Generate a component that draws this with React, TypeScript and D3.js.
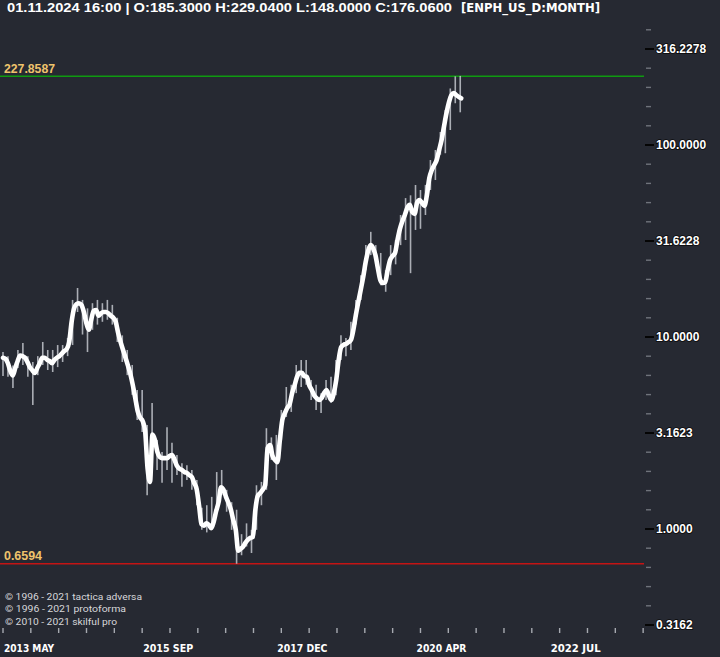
import React, { useEffect } from 'react';
import * as d3 from 'd3';

const W = 720;
const H = 657;

// thick close trace, sampled about every half month starting 2013 MAY
const LINE_STEP_MONTHS = 0.493;
const closeTrace = [
  7.8, 7.7, 7.3, 6.65, 6.3, 6.9, 7.5, 8.0, 7.95, 7.8,
  7.4, 6.95, 6.7, 6.5, 6.9, 7.3, 7.8, 7.8, 7.6, 7.5,
  7.3, 7.6, 7.8, 7.95, 8.2, 8.45, 8.65, 9.4, 12.0, 14.1,
  14.85, 15.0, 14.7, 13.5, 11.85, 10.9, 12.3, 13.7, 13.8, 12.9,
  13.3, 13.5, 13.5, 13.3, 12.9, 12.6, 12.0, 10.5, 9.4, 8.56,
  7.8, 7.1, 6.4, 5.6, 4.8, 4.1, 3.8, 3.65, 3.24, 2.07,
  1.76, 3.1, 2.91, 2.52, 2.37, 2.34, 2.34, 2.34, 2.4, 2.43,
  2.29, 2.13, 2.06, 2.03, 1.98, 1.96, 1.91, 1.87, 1.74, 1.62,
  1.33, 1.06, 1.04, 1.07, 1.05, 1.01, 1.09, 1.24, 1.38, 1.65,
  1.6, 1.47, 1.37, 1.26, 1.11, 0.99, 0.77, 0.79, 0.81, 0.85,
  0.88, 0.9, 0.91, 1.26, 1.49, 1.54, 1.6, 1.69, 2.64, 2.74,
  2.4, 2.29, 2.23, 2.91, 3.7, 4.0, 4.27, 4.47, 5.1, 5.6,
  6.2, 6.5, 6.5, 6.25, 6.2, 5.6, 5.3, 4.97, 4.8, 4.7,
  4.8, 5.1, 5.3, 4.97, 4.7, 5.1, 5.97, 7.6, 8.85, 9.1,
  9.2, 9.4, 9.65, 10.9, 13.0, 15.2, 17.6, 20.5, 24.5, 28.0,
  30.1, 29.1, 26.7, 22.8, 19.8, 19.1, 19.3, 22.3, 25.2, 26.4,
  27.4, 32.0, 36.6, 40.1, 43.2, 47.1, 48.8, 44.9, 43.8, 50.0,
  51.7, 50.0, 48.2, 54.7, 67.3, 74.1, 78.6, 83.5, 94.2, 106.2,
  125.3, 146.8, 167, 182, 186.5, 182, 178, 175,
];

// monthly candles, 2013 MAY .. 2021 JAN
const monthHigh = [
  8.35, 7.95, 7.1, 8.56, 9.31, 7.95, 7.4, 7.95, 9.42, 8.56,
  8.56, 9.08, 9.08, 9.89, 15.6, 18.0, 15.6, 14.1, 15.0, 15.6,
  15.0, 15.6, 14.7, 12.6, 10.2, 8.56, 7.15, 5.3, 5.3, 3.48,
  4.53, 2.91, 2.52, 3.39, 2.81, 2.43, 2.2, 2.15, 2.03, 1.8,
  1.29, 1.33, 1.47, 1.98, 2.03, 1.6, 1.38, 1.26, 0.94, 1.07,
  0.99, 1.69, 1.76, 3.35, 3.0, 3.09, 4.17, 5.49, 5.64, 7.15,
  7.59, 7.59, 5.97, 5.64, 5.1, 5.97, 6.2, 7.59, 10.2, 9.89,
  12.0, 15.6, 21.0, 30.1, 35.3, 30.1, 27.4, 22.3, 30.1, 32.0,
  43.2, 52.9, 54.7, 61.9, 58.3, 62.0, 83.5, 94.2, 116.9, 152.2,
  197, 227.86, 229.04,
];
const monthLow = [
  6.26, 6.2, 5.42, 6.89, 7.15, 6.2, 4.43, 6.33, 7.15, 6.73,
  6.57, 6.97, 7.41, 7.95, 9.08, 13.5, 10.3, 8.35, 10.9, 11.6,
  12.0, 12.3, 11.6, 9.42, 7.41, 6.33, 5.0, 3.7, 3.2, 1.5,
  2.74, 2.03, 1.74, 2.03, 1.74, 1.91, 1.66, 1.8, 1.6, 1.33,
  0.99, 0.96, 0.99, 1.21, 1.5, 1.23, 0.99, 0.6594, 0.73, 0.81,
  0.75, 0.99, 1.33, 1.6, 2.29, 1.8, 2.91, 3.83, 4.07, 5.1,
  5.49, 5.64, 4.7, 4.17, 4.02, 4.7, 4.53, 4.97, 7.59, 7.95,
  8.56, 11.6, 15.6, 22.3, 26.7, 23.9, 18.6, 17.2, 21.0, 23.9,
  30.1, 32.0, 21.5, 36.1, 36.6, 43.2, 58.3, 65.7, 89, 90.6,
  119.7, 165, 148,
];

const yMajorValues = [316.2278, 100, 31.6228, 10, 3.1623, 1, 0.3162];
const yMajorLabels = ['316.2278', '100.0000', '31.6228', '10.0000', '3.1623', '1.0000', '0.3162'];
const xLabelMonths = [0, 28, 55, 83, 110];
const xLabels = ['2013 MAY', '2015 SEP', '2017 DEC', '2020 APR', '2022 JUL'];
const levelHigh = 227.8587;
const levelLow = 0.6594;
const levelHighLabel = '227.8587';
const levelLowLabel = '0.6594';
const headerMain = '01.11.2024 16:00 | O:185.3000 H:229.0400 L:148.0000 C:176.0600';
const headerTag = '[ENPH_US_D:MONTH]';
const credits = [
  '\u00A9 1996 - 2021 tactica adversa',
  '\u00A9 1996 - 2021 protoforma',
  '\u00A9 2010 - 2021 skilful pro',
];

const BG = '#262932';
const PLOT_RIGHT = 644;

export default function App() {
  useEffect(() => {
    document.body.style.margin = '0';
    document.body.style.background = BG;
  }, []);

  const x = d3.scaleLinear().domain([0, 110]).range([3, 3 + 110 * 4.97]);
  const y = d3.scaleLog().domain([1, 100]).range([529, 145]);

  const lineGen = d3
    .line<number>()
    .x((_, i) => x(i * LINE_STEP_MONTHS))
    .y((d) => y(d))
    .curve(d3.curveMonotoneX);
  const pathD = lineGen(closeTrace) || '';

  const minorExps = d3.range(-5, 27).map((k) => k / 10);
  const minorTicks = minorExps.filter((e) => Math.abs(Math.round(e * 2) / 2 - e) > 1e-6);

  const xTickStep = 5.6;
  const xTicks = d3.range(0, 24).map((k) => k * xTickStep);

  const tickFont = "'Liberation Sans', Arial, sans-serif";
  const condFont = "'DejaVu Sans Condensed', 'DejaVu Sans', sans-serif";

  return (
    <svg width={W} height={H} style={{ display: 'block', background: BG }} fontFamily={tickFont}>
      <rect x={0} y={0} width={W} height={H} fill={BG} />
      <defs>
        <clipPath id="plot">
          <rect x={0} y={20} width={PLOT_RIGHT} height={608} />
        </clipPath>
      </defs>

      {/* level lines */}
      <line x1={0} x2={PLOT_RIGHT} y1={y(levelHigh)} y2={y(levelHigh)} stroke="#0f9a10" strokeWidth={1.5} />
      <line x1={0} x2={PLOT_RIGHT} y1={y(levelLow)} y2={y(levelLow)} stroke="#c41414" strokeWidth={1.6} />

      <g clipPath="url(#plot)">
        {monthHigh.map((h, m) => (
          <line
            key={m}
            x1={x(m)}
            x2={x(m)}
            y1={y(h)}
            y2={y(monthLow[m])}
            stroke="#c3c6cd"
            strokeWidth={1.6}
            opacity={0.85}
          />
        ))}
        <path d={pathD} fill="none" stroke="#ffffff" strokeWidth={4.6} strokeLinejoin="round" strokeLinecap="round" />
      </g>

      {/* level labels */}
      <text x={4} y={y(levelHigh) - 3.5} fill="#efc36c" fontSize={12} fontWeight="bold" textLength={51} lengthAdjust="spacingAndGlyphs">
        {levelHighLabel}
      </text>
      <text x={4} y={y(levelLow) - 3.5} fill="#efc36c" fontSize={12} fontWeight="bold" textLength={38} lengthAdjust="spacingAndGlyphs">
        {levelLowLabel}
      </text>

      {/* right axis */}
      {minorTicks.map((e) => (
        <line key={e} x1={646} x2={651} y1={y(Math.pow(10, e))} y2={y(Math.pow(10, e))} stroke="#6f737b" strokeWidth={1.4} />
      ))}
      {yMajorValues.map((v, i) => (
        <g key={v}>
          <line x1={645} x2={654} y1={y(v)} y2={y(v)} stroke="#050505" strokeWidth={2} />
          <text
            x={656}
            y={y(v) + 4.3}
            fill="#ffffff"
            fontSize={12}
            fontWeight="bold"
            stroke="#0a0a0a"
            strokeWidth={1.6}
            paintOrder="stroke"
          >
            {yMajorLabels[i]}
          </text>
        </g>
      ))}

      {/* bottom axis */}
      {xTicks.map((m) => (
        <line key={m} x1={x(m)} x2={x(m)} y1={628} y2={633} stroke="#a6a9b0" strokeWidth={1.4} />
      ))}
      {xLabels.map((t, i) => (
        <text
          key={t}
          x={x(xLabelMonths[i]) + 1}
          y={652}
          fill="#ffffff"
          fontSize={11}
          fontWeight="bold"
          fontFamily={condFont}
          textLength={50}
          lengthAdjust="spacingAndGlyphs"
        >
          {t}
        </text>
      ))}

      {/* credits */}
      {credits.map((c, i) => (
        <text
          key={c}
          x={5}
          y={600 + i * 12.3}
          fill="#d6d7da"
          fontSize={9.5}
          fontFamily="Roboto, sans-serif"
          textLength={i === 0 ? 137 : i === 1 ? 121 : 112}
          lengthAdjust="spacingAndGlyphs"
        >
          {c}
        </text>
      ))}

      {/* header */}
      <text x={7} y={12} fill="#ffffff" fontSize={12.5} fontWeight="bold" textLength={445} lengthAdjust="spacingAndGlyphs">
        {headerMain}
      </text>
      <text
        x={461}
        y={12}
        fill="#ffffff"
        fontSize={12}
        fontWeight="bold"
        fontFamily={condFont}
        textLength={139}
        lengthAdjust="spacingAndGlyphs"
      >
        {headerTag}
      </text>
    </svg>
  );
}
